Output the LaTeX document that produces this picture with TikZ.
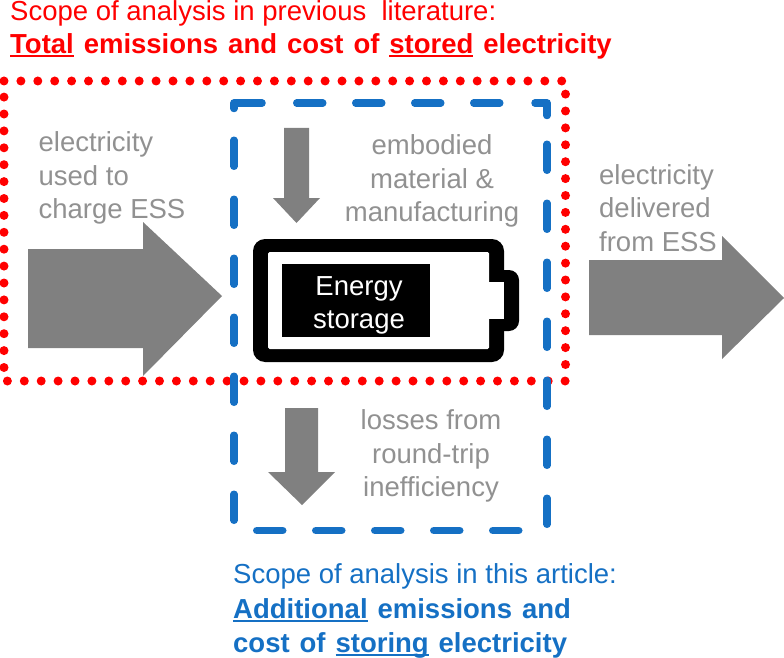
\documentclass[tikz,border=0pt]{standalone}
\usepackage{fontspec}
\setmainfont{Liberation Sans}
\newfontfamily\titlefont[WordSpace=1.3]{Liberation Sans}
\usetikzlibrary{positioning}
\definecolor{scopered}{RGB}{255,0,0}
\definecolor{scopeblue}{RGB}{21,112,196}
\definecolor{flowgray}{RGB}{128,128,128}
\definecolor{labelgray}{RGB}{145,145,145}
\newcommand{\scopeline}[1]{\setbox0\hbox{#1}\rlap{\rule[-3.5pt]{\wd0}{2pt}}\box0\relax}
\tikzset{
	flowlabel/.style={text=labelgray, font=\fontsize{27.5}{33.5}\selectfont, align=center, inner sep=0pt},
	titletext/.style={font=\fontsize{27.5}{33}\selectfont, anchor=base west, inner sep=0pt},
	titlebold/.style={titletext, font=\fontsize{27.5}{33}\selectfont\titlefont\bfseries},
	flowarrow/.style={fill=flowgray},
	bluescope/.style={scopeblue, line width=7.5pt, line cap=round, line join=round},
}
\begin{document}
\begin{tikzpicture}[x=1pt, y=-1pt]
	\useasboundingbox (0,0) rectangle (784,658);
	% big arrows
	\fill[flowarrow] (28,249) -- (143,249) -- (143,222) -- (222,296) -- (143,376) -- (143,348) -- (28,348) -- cycle;
	\fill[flowarrow] (589,260) -- (722,260) -- (722,236) -- (784,298) -- (722,359) -- (722,335) -- (589,335) -- cycle;
	% small arrows
	\fill[flowarrow] (284,128) -- (309,128) -- (309,198) -- (320,198) -- (296.5,223) -- (273,198) -- (284,198) -- cycle;
	\fill[flowarrow] (285,408) -- (318,408) -- (318,472) -- (335,472) -- (302,505) -- (268,472) -- (285,472) -- cycle;
	% battery
	\fill[black, rounded corners=12pt] (253,239) rectangle (504,362);
	\fill[black, rounded corners=10pt] (490,270) rectangle (519,331);
	\fill[white, rounded corners=1.5pt] (268,252) rectangle (489,349);
	\fill[white] (488,282) rectangle (504,319);
	\node[fill=black, minimum width=148pt, minimum height=73pt, inner sep=0pt] (storagebox) at (356,300.5) {};
	\node[text=white, inner sep=0pt, align=center, font=\fontsize{27.5}{33}\selectfont] (storage) at (359,305) {Energy\\storage};
	% scopes
	\draw[scopered, line width=9pt, line cap=round, dash pattern=on 0pt off 16.9pt] (4,81) -- (565.5,81) -- (565.5,381) -- (4,381) -- cycle;
	\draw[bluescope] (234,108.5) -- (234,103) -- (262,103) (535,103) -- (547,103) -- (547,115.5);
	\draw[bluescope, dash pattern=on 26pt off 33pt] (296.75,103) -- (510,103) (234,520.25) -- (234,130) (547,524.25) -- (547,130) (256.75,530.5) -- (520,530.5);
	% labels
	\node[flowlabel, align=left] (charge) at (112,178) {electricity\\used to\\charge ESS};
	\node[flowlabel] (embodied) at (432,181) {embodied\\material \&\\manufacturing};
	\node[flowlabel, align=left] (delivered) at (658,208) {electricity\\delivered\\from ESS};
	\node[flowlabel] (losses) at (431,456) {losses from\\round-trip\\inefficiency};
	% titles
	\node[titletext, text=scopered] (prevscope) at (10,21) {Scope of analysis in previous\ \ literature:};
	\node[titlebold, text=scopered] (prevtotal) at (10,54) {\scopeline{Total} emissions and cost of \scopeline{stored} electricity};
	\node[titletext, text=scopeblue] (thisscope) at (233,583) {Scope of analysis in this article:};
	\node[titlebold, text=scopeblue] (thisadd) at (233,618) {\scopeline{Additional} emissions and};
	\node[titlebold, text=scopeblue] (thiscost) at (233,652) {cost of \scopeline{storing} electricity};
\end{tikzpicture}
\end{document}
